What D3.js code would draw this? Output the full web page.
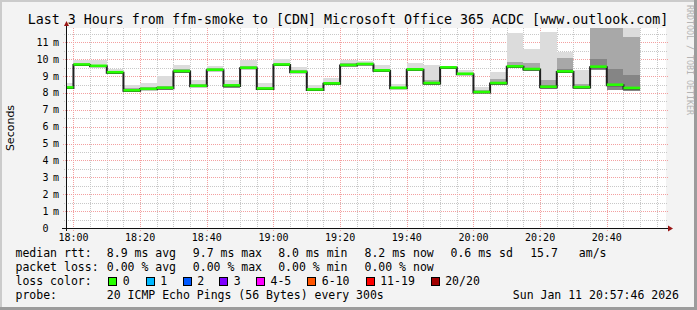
<!DOCTYPE html>
<html>
<head>
<meta charset="utf-8">
<script src="https://cdn.jsdelivr.net/npm/d3@7"></script>
<style>
body { margin: 0; background: #f3f3f3; }
svg text { font-family: 'DejaVu Sans Mono', monospace; fill: #000; }
</style>
</head>
<body>
<script>
// ----------------------------------- DATA --------------------------------------------
// end time of each 5 minute step
var stepEnd = ['18:00','18:05','18:10','18:15','18:20','18:25','18:30','18:35','18:40','18:45',
               '18:50','18:55','19:00','19:05','19:10','19:15','19:20','19:25','19:30','19:35',
               '19:40','19:45','19:50','19:55','20:00','20:05','20:10','20:15','20:20','20:25',
               '20:30','20:35','20:40','20:45','20:50']

// median rtt (ms)
var median = [8.30,9.66,9.58,9.20,8.13,8.22,8.28,9.27,8.40,9.35,
              8.42,9.47,8.24,9.66,9.23,8.18,8.54,9.63,9.69,9.31,
              8.28,9.37,8.56,9.49,9.11,8.03,8.56,9.55,9.39,8.34,
              9.25,8.32,9.53,8.46,8.27]

// smoke: lowest ping, highest ping, and two inner levels (ms)
var pingLo = [8.22,9.58,9.52,9.14,8.08,8.16,8.20,9.20,8.33,9.30,
              8.30,9.42,8.18,9.60,9.18,8.12,8.48,9.58,9.64,9.26,
              8.22,9.32,8.50,9.44,9.05,7.98,8.50,9.48,9.32,8.26,
              9.18,8.25,9.35,8.17,8.10]
var pingHi = [8.62,9.94,9.98,9.41,8.50,8.60,9.03,9.63,8.76,9.59,
              8.76,9.94,8.62,10.04,9.55,8.50,8.88,9.94,9.88,9.65,
              8.56,9.80,9.65,9.60,9.35,8.36,9.25,11.56,10.59,11.62,
              10.43,9.35,12.5,12.5,12.5]
var pingUpper = [8.40,9.80,9.68,9.30,8.30,8.33,8.42,9.40,8.53,9.46,
                 8.54,9.58,8.36,9.78,9.36,8.30,8.64,9.76,9.76,9.43,
                 8.38,9.50,8.78,9.54,9.20,8.16,8.82,9.86,9.76,8.75,
                 10.05,8.55,12.5,12.5,11.3]
var pingCore = [8.33,9.71,9.62,9.24,8.18,8.26,8.32,9.31,8.44,9.39,
                8.46,9.51,8.28,9.70,9.27,8.22,8.57,9.67,9.72,9.35,
                8.31,9.41,8.62,9.51,9.14,8.07,8.63,9.64,9.47,8.46,
                9.40,8.40,10.0,9.45,9.05]

var yTicks = [0,1,2,3,4,5,6,7,8,9,10,11]

var lossLabels = ['0','1','2','3','4-5','6-10','11-19','20/20']
var lossColors = ['#26ff00','#00b8ff','#0059ff','#7e00ff','#ff00ff','#ff5500','#ff0000','#a10000']

// ----------------------------------- SVG and BACKGROUND --------------------------------------------
var width = 697
var height = 310

var svg = d3.select('body')
            .append('svg')
            .attr('width', width)
            .attr('height', height)

svg.append('rect').attr('width', width).attr('height', height).attr('fill', '#f3f3f3')
// shade borders
svg.append('rect').attr('x', 0).attr('y', 0).attr('width', width).attr('height', 2).attr('fill', '#cbcbcb')
svg.append('rect').attr('x', 0).attr('y', 0).attr('width', 2).attr('height', height).attr('fill', '#cbcbcb')
svg.append('rect').attr('x', 0).attr('y', height - 3).attr('width', width).attr('height', 3).attr('fill', '#9c9c9c')
svg.append('rect').attr('x', width - 3).attr('y', 0).attr('width', 3).attr('height', height).attr('fill', '#9c9c9c')

// ----------------------------------- SCALES --------------------------------------------
var pLeft = 66, pRight = 666, pTop = 28, pBottom = 228

var parseT = function(s) {
    var p = s.split(':')
    return new Date(2026, 0, 11, +p[0], +p[1], 0)
}
var tStart = new Date(2026, 0, 11, 17, 57, 46)
var tEnd = new Date(2026, 0, 11, 20, 57, 46)

var x = d3.scaleTime().domain([tStart, tEnd]).range([pLeft, pRight])
var y = d3.scaleLinear().domain([0, 11.85]).range([pBottom, pTop])

var steps = stepEnd.map(function(s, i) {
    var end = parseT(s)
    return {
        start: new Date(end.getTime() - 300000), end: end,
        med: median[i], lo: pingLo[i], hi: pingHi[i], up: pingUpper[i], core: pingCore[i]
    }
})

svg.append('rect').attr('x', pLeft).attr('y', pTop).attr('width', pRight - pLeft).attr('height', pBottom - pTop).attr('fill', '#ffffff')

var defs = svg.append('defs')
defs.append('clipPath').attr('id', 'plot')
    .append('rect').attr('x', pLeft).attr('y', pTop).attr('width', pRight - pLeft).attr('height', pBottom - pTop)

// ----------------------------------- GRID --------------------------------------------
var grid = svg.append('g').attr('shape-rendering', 'crispEdges')

var minorY = d3.range(1, 24).map(function(d) { return d / 2 }).filter(function(d) { return d % 1 !== 0 && y(d) > pTop })
grid.selectAll('.ymin').data(minorY).enter().append('line')
    .attr('x1', pLeft - 2).attr('x2', pRight + 2)
    .attr('y1', function(d) { return Math.round(y(d)) + 0.5 }).attr('y2', function(d) { return Math.round(y(d)) + 0.5 })
    .attr('stroke', '#c8c8c8').attr('stroke-dasharray', '1,1')

var minorX = d3.timeMinute.every(5).range(tStart, tEnd).filter(function(d) { return d.getMinutes() % 20 !== 0 })
grid.selectAll('.xmin').data(minorX).enter().append('line')
    .attr('x1', function(d) { return Math.round(x(d)) + 0.5 }).attr('x2', function(d) { return Math.round(x(d)) + 0.5 })
    .attr('y1', pTop).attr('y2', pBottom + 2)
    .attr('stroke', '#c8c8c8').attr('stroke-dasharray', '1,1')

grid.selectAll('.ymaj').data(yTicks.filter(function(d) { return d > 0 })).enter().append('line')
    .attr('x1', pLeft - 3).attr('x2', pRight + 2)
    .attr('y1', function(d) { return Math.round(y(d)) + 0.5 }).attr('y2', function(d) { return Math.round(y(d)) + 0.5 })
    .attr('stroke', '#f3a0a0').attr('stroke-dasharray', '1,1')

var majorX = d3.timeMinute.every(20).range(tStart, tEnd)
grid.selectAll('.xmaj').data(majorX).enter().append('line')
    .attr('x1', function(d) { return Math.round(x(d)) + 0.5 }).attr('x2', function(d) { return Math.round(x(d)) + 0.5 })
    .attr('y1', pTop).attr('y2', pBottom + 3)
    .attr('stroke', '#f3a0a0').attr('stroke-dasharray', '1,1')

// ----------------------------------- SMOKE --------------------------------------------
var plot = svg.append('g').attr('clip-path', 'url(#plot)')

var bands = [
    {from: 'lo', to: 'hi', color: '#dcdcdc'},
    {from: 'lo', to: 'up', color: '#a8a8a8'},
    {from: 'lo', to: 'core', color: '#858585'}
]
bands.forEach(function(b) {
    plot.append('g').selectAll('rect').data(steps).enter().append('rect')
        .attr('x', function(d) { return x(d.start) })
        .attr('width', function(d) { return x(d.end) - x(d.start) })
        .attr('y', function(d) { return y(d[b.to]) })
        .attr('height', function(d) { return y(d[b.from]) - y(d[b.to]) })
        .attr('fill', b.color)
        .attr('shape-rendering', 'crispEdges')
})

// ----------------------------------- MEDIAN --------------------------------------------
var pts = steps.map(function(d) { return [x(d.start), y(d.med)] })
var last = steps[steps.length - 1]
pts.push([x(last.end), y(last.med)])

plot.append('path')
    .attr('d', d3.line().curve(d3.curveStepAfter)(pts))
    .attr('fill', 'none')
    .attr('stroke', '#202020')
    .attr('stroke-width', 2)

plot.selectAll('.med').data(steps).enter().append('line')
    .attr('x1', function(d) { return x(d.start) })
    .attr('x2', function(d) { return x(d.end) })
    .attr('y1', function(d) { return y(d.med) - 0.5 })
    .attr('y2', function(d) { return y(d.med) - 0.5 })
    .attr('stroke', lossColors[0])
    .attr('stroke-width', 2.6)

// ----------------------------------- AXES --------------------------------------------
var axis = svg.append('g').attr('shape-rendering', 'crispEdges')
axis.append('line').attr('x1', pLeft - 4).attr('x2', pRight + 3).attr('y1', pBottom + 0.5).attr('y2', pBottom + 0.5).attr('stroke', '#101010')
axis.append('line').attr('x1', pLeft + 0.5).attr('x2', pLeft + 0.5).attr('y1', pBottom + 3).attr('y2', pTop - 3).attr('stroke', '#101010')
svg.append('path').attr('d', 'M' + (pRight + 2) + ',' + (pBottom - 2.5) + 'L' + (pRight + 7) + ',' + (pBottom + 0.5) + 'L' + (pRight + 2) + ',' + (pBottom + 3.5) + 'Z').attr('fill', '#991515')
svg.append('path').attr('d', 'M' + (pLeft - 2) + ',' + (pTop - 2) + 'L' + (pLeft + 0.5) + ',' + (pTop - 7) + 'L' + (pLeft + 3) + ',' + (pTop - 2) + 'Z').attr('fill', '#991515')

// y labels
svg.selectAll('.ylab').data(yTicks).enter().append('text')
    .attr('x', 48.5)
    .attr('y', function(d) { return y(d) + 3.5 })
    .attr('text-anchor', 'end')
    .attr('font-size', 10)
    .text(function(d) { return d })
svg.selectAll('.yunit').data(yTicks.filter(function(d) { return d > 0 })).enter().append('text')
    .attr('x', 53)
    .attr('y', function(d) { return y(d) + 3.5 })
    .attr('font-size', 10)
    .text('m')

// x labels
svg.selectAll('.xlab').data(majorX).enter().append('text')
    .attr('x', function(d) { return x(d) })
    .attr('y', 241)
    .attr('text-anchor', 'middle')
    .attr('font-size', 10)
    .text(d3.timeFormat('%H:%M'))

// ----------------------------------- TITLES --------------------------------------------
svg.append('text')
    .attr('x', 348).attr('y', 24)
    .attr('text-anchor', 'middle')
    .attr('font-size', 13.3)
    .text('Last 3 Hours from ffm-smoke to [CDN] Microsoft Office 365 ACDC [www.outlook.com]')

svg.append('text')
    .attr('transform', 'translate(14,' + (pTop + pBottom) / 2 + ') rotate(-90)')
    .attr('text-anchor', 'middle')
    .style('font-family', "'DejaVu Sans', sans-serif")
    .attr('font-size', 11)
    .text('Seconds')

svg.append('text')
    .attr('transform', 'translate(686.5,5) rotate(90)')
    .attr('font-size', 8.3)
    .style('fill', '#b4b4b4')
    .text('RRDTOOL / TOBI OETIKER')

// ----------------------------------- LEGEND --------------------------------------------
var legendLines = [
    {y: 257, items: [['median rtt:', 16], ['8.9 ms avg', 107.3], ['9.7 ms max', 193.3], ['8.0 ms min', 278.7],
                     ['8.2 ms now', 365], ['0.6 ms sd', 451], ['15.7', 530.7], ['am/s', 579.3]]},
    {y: 271, items: [['packet loss:', 16], ['0.00 % avg', 107.3], ['0.00 % max', 193.3], ['0.00 % min', 278.7], ['0.00 % now', 365]]},
    {y: 285, items: [['loss color:', 16]]},
    {y: 299, items: [['probe:', 16], ['20 ICMP Echo Pings (56 Bytes) every 300s', 107.3], ['Sun Jan 11 20:57:46 2026', 513.3]]}
]
legendLines.forEach(function(line) {
    svg.append('g').selectAll('text').data(line.items).enter().append('text')
        .attr('x', function(d) { return d[1] - 0.5 })
        .attr('y', line.y)
        .attr('font-size', 11.5)
        .text(function(d) { return d[0] })
})

var boxX = [108.3, 145.7, 182.7, 219.3, 256, 307.3, 365.7, 430.7]
var lossKey = svg.append('g').selectAll('g').data(lossLabels).enter().append('g')
lossKey.append('rect')
    .attr('x', function(d, i) { return Math.round(boxX[i]) + 0.5 })
    .attr('y', 277.5)
    .attr('width', 8).attr('height', 8)
    .attr('fill', function(d, i) { return lossColors[i] })
    .attr('stroke', '#000')
    .attr('shape-rendering', 'crispEdges')
lossKey.append('text')
    .attr('x', function(d, i) { return boxX[i] + 14.5 })
    .attr('y', 285)
    .attr('font-size', 11.5)
    .text(function(d) { return d })
</script>
</body>
</html>
